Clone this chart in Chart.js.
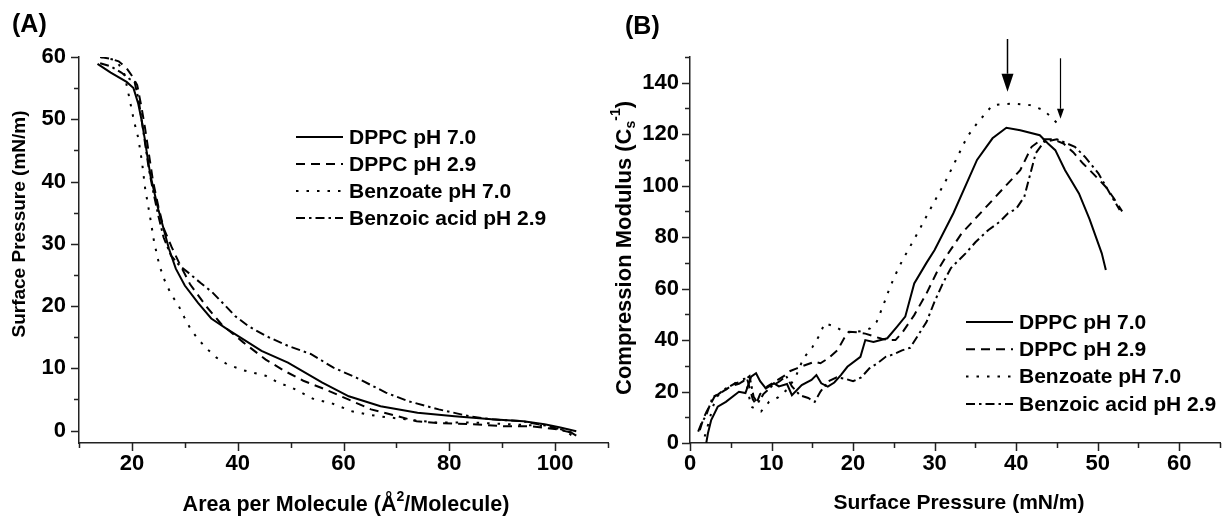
<!DOCTYPE html>
<html>
<head>
<meta charset="utf-8">
<script src="https://cdn.jsdelivr.net/npm/chart.js@4.4.0/dist/chart.umd.min.js"></script>
<style>
    body { margin: 0; width: 1223px; height: 516px; overflow: hidden; background: #fff; position: relative; }
    .painel { position: absolute; top: 0; }
    #painelA { left: 0; width: 616px; height: 516px; }
    #painelB { left: 600px; width: 628px; height: 516px; }
    .letra { position: absolute; font: bold 25px "Liberation Sans", Arial, sans-serif; color: #000; line-height: 1; }
</style>
</head>
<body>
<div class="painel" id="painelA"><canvas id="graficoA" width="616" height="516"></canvas></div>
<div class="painel" id="painelB"><canvas id="graficoB" width="628" height="516"></canvas></div>
<div class="letra" style="left:12px; top:11px;">(A)</div>
<div class="letra" style="left:625px; top:13px;">(B)</div>
<script>
// --- DADOS DO PAINEL A (isotermas pressão x área) ---
const aDppc70X = [13.5, 16, 19, 20.3, 21.2, 21.8, 22.4, 22.9, 23.5, 24.2, 25, 25.8, 27, 28.3, 30, 32.5, 35, 38, 41, 44.5, 49.5, 56, 61, 67, 74, 81, 88, 94, 98, 101, 104];
const aDppc70Y = [58.9, 57.5, 56, 55, 52.5, 50, 47, 44.2, 41, 38.4, 35.5, 33, 29.2, 26, 23.3, 20.5, 18, 16.3, 14.7, 12.8, 10.9, 7.7, 5.5, 3.9, 2.85, 2.3, 1.8, 1.5, 1, 0.5, -0.1];

const aDppc29X = [14, 16, 17.5, 19, 20, 21, 21.8, 22.5, 23.2, 24, 25, 26, 27.5, 29, 31, 34, 37, 41, 45.3, 48.8, 52.4, 56.6, 60.9, 65.2, 70.2, 73.8, 78, 84.5, 90.3, 95.3, 100.3, 104];
const aDppc29Y = [60, 59.7, 59.3, 58.2, 57, 55.5, 52, 48.5, 44.5, 40, 36, 32.5, 29.5, 26.8, 23.5, 20, 17, 14.2, 11.4, 9.6, 8, 6.6, 5, 3.4, 2.3, 1.5, 1.2, 1, 0.7, 0.7, 0.2, -0.5];

const aBenzoatoX = [14, 17, 18.5, 19.5, 20.4, 21.2, 21.9, 22.5, 23.4, 24.2, 25.2, 26.2, 27.4, 28.8, 29.9, 31.1, 32.5, 34.1, 36, 38.1, 41, 45.3, 47.7, 50.2, 54.5, 57.4, 61.6, 64.4, 66.7, 71.7, 77.4, 84.5, 91.6, 98.8, 102, 104];
const aBenzoatoY = [60, 59.5, 57.5, 53.5, 49.7, 47, 43.2, 38.9, 34.5, 30.3, 26.5, 24.1, 21.9, 20.1, 18.2, 16.3, 14.7, 13.2, 11.7, 10.6, 9.7, 8.8, 7.7, 6.9, 5, 4.5, 3.1, 2.6, 2.3, 1.8, 1.3, 1.3, 1, 0.7, 0, -1.4];

const aBenzoicoX = [14, 16, 18, 19.5, 20.5, 21.3, 22, 22.6, 23.2, 24, 25, 26, 27.4, 29, 30.9, 33, 35.2, 37.5, 39.5, 42, 45.3, 49.5, 53.8, 58.1, 62.4, 68, 72.3, 78, 83.8, 88, 93.8, 98.8, 103, 104];
const aBenzoicoY = [59, 58.5, 57.5, 56.5, 56, 53, 49, 45.5, 42, 38.5, 34.5, 31, 28.1, 26.5, 25.2, 23.7, 22.2, 20.2, 18.4, 16.8, 15.2, 13.6, 12.3, 10.1, 8.5, 6.1, 4.7, 3.4, 2.3, 1.8, 1.5, 0.7, -0.3, -0.8];

// --- DADOS DO PAINEL B (módulo de compressão x pressão) ---
const bDppc70X = [2, 2.2, 2.6, 3.4, 4.4, 6, 6.8, 7.5, 8.1, 8.6, 9.3, 10.3, 10.9, 11.9, 12.5, 13.7, 14.9, 15.5, 16.1, 16.9, 17.7, 18.5, 19.3, 20.9, 21.5, 22.5, 24.2, 25.4, 26.4, 27.5, 29, 30, 32.3, 35.2, 37.1, 38.8, 40.5, 42.9, 43.9, 44.8, 46, 47.7, 49, 50.5, 51];
const bDppc70Y = [0.1, 3.8, 8.9, 14.1, 16, 19.9, 19.4, 25.8, 27.1, 24, 21.2, 23.2, 22, 22.9, 18.6, 22.5, 24.5, 26.4, 23.2, 21.9, 23.5, 26.4, 29.6, 33.5, 40, 39.3, 40.7, 45.2, 49.1, 62, 70, 75, 89.3, 110, 118.4, 122.5, 121.5, 119.6, 116.4, 113.8, 106, 97, 87, 73.7, 67.2];

const bDppc29X = [1.2, 1.6, 2, 2.5, 3, 4, 5, 6, 7, 7.7, 8.1, 8.6, 9.5, 10.5, 11.5, 12.3, 13.1, 13.9, 15.3, 16, 17, 18.1, 18.9, 19.5, 20.5, 21.5, 22.5, 23.5, 24.5, 25.2, 26.1, 27.5, 29, 30.4, 31.4, 33.3, 35.2, 37.1, 39, 40.5, 41.9, 42.7, 43.5, 44.5, 45.8, 47, 48.2, 49.5, 51, 52, 53];
const bDppc29Y = [5, 9, 12, 15, 18, 20, 22, 23, 25, 17, 15, 19, 22, 24, 26, 28, 29, 30, 31.6, 31, 33, 36.1, 40.7, 43.2, 43, 42.5, 41.5, 40.5, 40, 40, 43.2, 49.7, 58.1, 67.2, 72.4, 81.4, 87.9, 94.4, 100.9, 106, 115.1, 117, 118, 118, 116.4, 113, 108.6, 104.5, 99.5, 95, 90];

const bBenzoatoX = [1.8, 2.3, 2.8, 3.3, 4, 5, 6.2, 6.8, 7.5, 8.7, 9.7, 10.8, 12, 13, 13.9, 15, 15.9, 16.5, 17.7, 18.9, 20, 21, 22.1, 22.9, 23.8, 24.3, 24.9, 25.6, 26.3, 28, 29.4, 31.4, 32.6, 34, 35.2, 37.1, 39.5, 41.7, 43.4, 45.5];
const bBenzoatoY = [2.5, 8, 14, 18, 20, 22, 24.7, 25, 14.1, 12.2, 16, 17.7, 21, 26, 32.9, 37.2, 42, 46.5, 45.4, 43.2, 43, 43.5, 44.5, 47.1, 54.3, 58.6, 63.3, 68.2, 72.4, 82.1, 90.5, 102.1, 109.9, 119, 124.2, 131.3, 131.9, 131.3, 129.3, 122.9];

const bBenzoicoX = [1, 1.4, 2, 2.8, 3.5, 4.4, 5.5, 6.5, 7.3, 7.8, 8.3, 9, 10, 11, 11.8, 12.5, 13.5, 14.5, 15.3, 16, 17, 18, 19, 20, 21, 22, 23, 24, 25, 26, 27, 28, 29, 30, 31, 32, 33.8, 35, 36.6, 38, 39, 40, 41, 42.4, 43.4, 45, 47.2, 48.5, 50.1, 51.5, 52.7];
const bBenzoicoY = [4.4, 7.6, 10.9, 18, 19, 21.2, 23.1, 24, 26, 18, 15.4, 19, 22, 24, 26, 22, 18.5, 17.5, 16, 20, 24, 25.5, 25, 24, 25.5, 29, 31, 33.5, 34.5, 36, 37, 42, 47, 55, 62, 68, 73.7, 78, 82.8, 86, 89.3, 91, 95.7, 112.6, 117, 118, 115.1, 111, 104.7, 97, 90.5];

// setas do painel B (posição x, valor inicial e ponta, em unidades dos eixos)
const bSetaX = [38.9, 45.4];
const bSetaInicio = [157, 149.5];
const bSetaPonta = [136.5, 126];

// --- EIXOS ---
const aTicksX = [10, 20, 30, 40, 50, 60, 70, 80, 90, 100, 110];
const aRotulosX = [20, 40, 60, 80, 100];
const aTicksY = [0, 5, 10, 15, 20, 25, 30, 35, 40, 45, 50, 55, 60];
const aRotulosY = [0, 10, 20, 30, 40, 50, 60];
const bTicksX = [0, 5, 10, 15, 20, 25, 30, 35, 40, 45, 50, 55, 60, 65];
const bRotulosX = [0, 10, 20, 30, 40, 50, 60];
const bTicksY = [0, 10, 20, 30, 40, 50, 60, 70, 80, 90, 100, 110, 120, 130, 140, 150];
const bRotulosY = [0, 20, 40, 60, 80, 100, 120, 140];

const nomesSeries = ['DPPC pH 7.0', 'DPPC pH 2.9', 'Benzoate pH 7.0', 'Benzoic acid pH 2.9'];
const tracos = [[], [9, 6], [2.5, 8], [9, 4, 2.5, 4]];

const FONTE = '"Liberation Sans", Arial, sans-serif';
Chart.defaults.font.family = FONTE;
Chart.defaults.color = '#000';

function pares(xs, ys) {
    return xs.map((x, i) => ({ x: x, y: ys[i] }));
}

function montarDatasets(series) {
    return series.map((s, i) => ({
        label: nomesSeries[i],
        data: pares(s[0], s[1]),
        borderColor: '#000',
        borderWidth: 2,
        borderDash: tracos[i],
        pointRadius: 0,
        fill: false,
        tension: 0
    }));
}

// texto com sub/sobrescrito (títulos dos eixos)
function textoRico(ctx, partes, cx, cy, tam, girar) {
    ctx.save();
    ctx.translate(cx, cy);
    if (girar) ctx.rotate(-Math.PI / 2);
    ctx.textAlign = 'left';
    ctx.textBaseline = 'middle';
    ctx.fillStyle = '#000';
    const fonte = p => `bold ${p.tipo ? Math.round(tam * 0.65) : tam}px ${FONTE}`;
    let total = 0;
    const larguras = partes.map(p => {
        ctx.font = fonte(p);
        const w = ctx.measureText(p.t).width;
        total += w;
        return w;
    });
    let x = -total / 2;
    partes.forEach((p, i) => {
        ctx.font = fonte(p);
        let dy = 0;
        if (p.tipo === 'sup') dy = -tam * 0.38;
        if (p.tipo === 'sub') dy = tam * 0.28;
        ctx.fillText(p.t, x, dy);
        x += larguras[i];
    });
    ctx.restore();
}

// marcas dos eixos, legenda, títulos e setas
const pluginExtras = {
    id: 'extras',
    afterDraw(chart, args, op) {
        const { ctx, chartArea: area } = chart;
        const sx = chart.scales.x;
        const sy = chart.scales.y;
        ctx.save();

        // marcas (maiores nos rótulos)
        ctx.strokeStyle = '#222';
        ctx.lineWidth = 1.5;
        ctx.beginPath();
        sx.ticks.forEach(t => {
            const px = Math.round(sx.getPixelForValue(t.value)) + 0.5;
            const len = op.rotulosX.includes(t.value) ? 8 : 5;
            ctx.moveTo(px, area.bottom);
            ctx.lineTo(px, area.bottom + len);
        });
        sy.ticks.forEach(t => {
            const py = Math.round(sy.getPixelForValue(t.value)) + 0.5;
            const len = op.rotulosY.includes(t.value) ? 8 : 5;
            ctx.moveTo(area.left, py);
            ctx.lineTo(area.left - len, py);
        });
        ctx.stroke();

        // legenda
        const leg = op.legenda;
        chart.data.datasets.forEach((ds, i) => {
            const y = leg.y + i * leg.passo;
            ctx.beginPath();
            ctx.setLineDash(ds.borderDash);
            ctx.lineWidth = 2;
            ctx.strokeStyle = '#000';
            ctx.moveTo(leg.x, y);
            ctx.lineTo(leg.x + leg.largura, y);
            ctx.stroke();
            ctx.setLineDash([]);
            ctx.font = `bold ${leg.fonte}px ${FONTE}`;
            ctx.fillStyle = '#000';
            ctx.textAlign = 'left';
            ctx.textBaseline = 'middle';
            ctx.fillText(ds.label, leg.x + leg.largura + 6, y + 1);
        });

        // títulos
        textoRico(ctx, op.tituloX.partes, op.tituloX.x, op.tituloX.y, op.tituloX.tam, false);
        textoRico(ctx, op.tituloY.partes, op.tituloY.x, op.tituloY.y, op.tituloY.tam, true);

        // setas
        (op.setas || []).forEach(s => {
            const px = Math.round(sx.getPixelForValue(s.x)) + 0.5;
            const y0 = sy.getPixelForValue(s.de);
            const y1 = sy.getPixelForValue(s.ate);
            ctx.beginPath();
            ctx.lineWidth = s.espessura;
            ctx.strokeStyle = '#000';
            ctx.moveTo(px, y0);
            ctx.lineTo(px, y1 - s.cabeca);
            ctx.stroke();
            ctx.beginPath();
            ctx.fillStyle = '#000';
            ctx.moveTo(px - s.meia, y1 - s.cabeca);
            ctx.lineTo(px + s.meia, y1 - s.cabeca);
            ctx.lineTo(px, y1);
            ctx.closePath();
            ctx.fill();
        });
        ctx.restore();
    }
};

function eixo(min, max, ticks, rotulos, lado, tamanho, padding) {
    return {
        type: 'linear',
        min: min,
        max: max,
        afterBuildTicks: s => { s.ticks = ticks.map(v => ({ value: v })); },
        afterFit: s => { if (lado === 'x') s.height = tamanho; else s.width = tamanho; },
        grid: { display: false, drawTicks: false },
        border: { display: true, color: '#222', width: 1.5 },
        ticks: {
            autoSkip: false,
            maxRotation: 0,
            padding: padding,
            font: { size: 22, weight: 'bold' },
            color: '#000',
            callback: v => rotulos.includes(v) ? String(v) : ''
        }
    };
}

function criarGrafico(id, series, escalas, extras, padDireita) {
    const ctx = document.getElementById(id).getContext('2d');
    return new Chart(ctx, {
        type: 'line',
        data: { datasets: montarDatasets(series) },
        options: {
            responsive: false,
            animation: false,
            devicePixelRatio: 1,
            layout: { padding: { top: 57, right: padDireita, left: 0, bottom: 0 } },
            scales: escalas,
            plugins: {
                legend: { display: false },
                tooltip: { enabled: false },
                extras: extras
            }
        },
        plugins: [pluginExtras]
    });
}

document.addEventListener('DOMContentLoaded', function () {
    criarGrafico('graficoA',
        [[aDppc70X, aDppc70Y], [aDppc29X, aDppc29Y], [aBenzoatoX, aBenzoatoY], [aBenzoicoX, aBenzoicoY]],
        {
            x: eixo(10, 110, aTicksX, aRotulosX, 'x', 73, 8),
            y: eixo(-2, 60, aTicksY, aRotulosY, 'y', 79, 13)
        },
        {
            rotulosX: aRotulosX,
            rotulosY: aRotulosY,
            legenda: { x: 296, y: 137, passo: 27, largura: 47, fonte: 21 },
            tituloX: { partes: [{ t: 'Area per Molecule (Å' }, { t: '2', tipo: 'sup' }, { t: '/Molecule)' }], x: 346, y: 505, tam: 21.5 },
            tituloY: { partes: [{ t: 'Surface Pressure (mN/m)' }], x: 20, y: 224, tam: 19 }
        },
        2);

    criarGrafico('graficoB',
        [[bDppc70X, bDppc70Y], [bDppc29X, bDppc29Y], [bBenzoatoX, bBenzoatoY], [bBenzoicoX, bBenzoicoY]],
        {
            x: eixo(0, 65, bTicksX, bRotulosX, 'x', 73, 8),
            y: eixo(0, 150, bTicksY, bRotulosY, 'y', 90, 11)
        },
        {
            rotulosX: bRotulosX,
            rotulosY: bRotulosY,
            legenda: { x: 366, y: 322, passo: 27.3, largura: 47, fonte: 21 },
            tituloX: { partes: [{ t: 'Surface Pressure (mN/m)' }], x: 359, y: 503, tam: 21 },
            tituloY: { partes: [{ t: 'Compression Modulus (C' }, { t: 's', tipo: 'sub' }, { t: '-1', tipo: 'sup' }, { t: ')' }], x: 25, y: 248, tam: 22 },
            setas: bSetaX.map((x, i) => ({ x: x, de: bSetaInicio[i], ate: bSetaPonta[i], espessura: i === 0 ? 1.5 : 1.2, cabeca: i === 0 ? 18 : 10, meia: i === 0 ? 6 : 3.5 }))
        },
        0);
});
</script>
</body>
</html>
